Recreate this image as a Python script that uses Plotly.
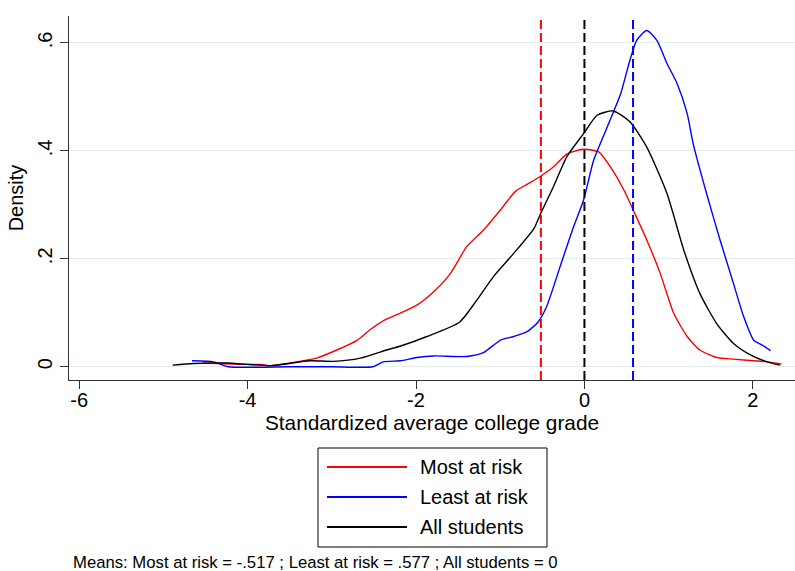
import plotly.graph_objects as go

# ---- data ----
most_x = [-4.53, -4.17, -3.85, -3.73, -3.46, -3.18, -2.94, -2.70, -2.55, -2.38, -2.19,
          -1.99, -1.79, -1.59, -1.40, -1.20, -1.00, -0.82, -0.68, -0.53, -0.37, -0.21,
          -0.01, 0.17, 0.31, 0.47, 0.58, 0.74, 0.90, 1.06, 1.22, 1.37, 1.57, 1.77, 2.01, 2.17, 2.34]
most_y = [0.007, 0.005, 0.004, 0.002, 0.008, 0.016, 0.031, 0.049, 0.068, 0.086, 0.099,
          0.114, 0.139, 0.173, 0.222, 0.253, 0.290, 0.325, 0.338, 0.352, 0.370, 0.394,
          0.403, 0.398, 0.370, 0.327, 0.290, 0.235, 0.173, 0.099, 0.056, 0.031, 0.017, 0.014, 0.011, 0.009, 0.005]

least_x = [-4.66, -4.40, -4.23, -3.50, -3.00, -2.51, -2.39, -2.19, -1.99, -1.79, -1.40,
           -1.20, -1.00, -0.84, -0.68, -0.55, -0.45, -0.29, -0.13, -0.01, 0.11, 0.27,
           0.43, 0.54, 0.62, 0.74, 0.86, 0.98, 1.10, 1.22, 1.29, 1.45, 1.61, 1.77, 1.89,
           2.01, 2.11, 2.21]
least_y = [0.011, 0.009, 0.000, 0.000, 0.000, 0.000, 0.009, 0.011, 0.017, 0.020, 0.019,
           0.026, 0.049, 0.056, 0.065, 0.083, 0.111, 0.185, 0.259, 0.309, 0.383, 0.444,
           0.506, 0.568, 0.605, 0.623, 0.605, 0.562, 0.525, 0.469, 0.414, 0.321, 0.235,
           0.154, 0.093, 0.049, 0.040, 0.030]

all_x = [-4.89, -4.64, -4.25, -3.73, -3.26, -2.98, -2.66, -2.35, -2.19, -1.87, -1.48,
         -1.28, -1.08, -0.84, -0.60, -0.52, -0.37, -0.21, -0.01, 0.15, 0.34, 0.54,
         0.74, 0.98, 1.18, 1.37, 1.57, 1.77, 1.97, 2.17, 2.32]
all_y = [0.003, 0.006, 0.007, 0.002, 0.011, 0.010, 0.016, 0.031, 0.038, 0.056, 0.083,
         0.123, 0.167, 0.210, 0.256, 0.284, 0.333, 0.389, 0.432, 0.466, 0.474, 0.454,
         0.407, 0.321, 0.216, 0.136, 0.080, 0.043, 0.022, 0.009, 0.003]

series_names = ["Most at risk", "Least at risk", "All students"]
series_colors = ["#ff0000", "#0000ff", "#000000"]
means = [-0.517, 0.577, 0.0]

x_tickvals = [-6, -4, -2, 0, 2]
x_ticktext = ["-6", "-4", "-2", "0", "2"]
y_tickvals = [0, 0.2, 0.4, 0.6]
y_ticktext = ["0", ".2", ".4", ".6"]

FONT = "Liberation Sans, Arial, sans-serif"

fig = go.Figure()
for xs, ys, name, col in zip([most_x, least_x, all_x], [most_y, least_y, all_y],
                             series_names, series_colors):
    fig.add_trace(go.Scatter(x=xs, y=ys, mode="lines", name=name,
                             line=dict(color=col, width=1.4, shape="spline", smoothing=0.6),
                             showlegend=False, hoverinfo="skip"))

# vertical mean lines
for m, col in zip(means, series_colors):
    fig.add_shape(type="line", xref="x", yref="paper", x0=m, x1=m, y0=0, y1=1,
                  line=dict(color=col, width=2, dash="9px,4px"))

# ---- layout geometry ----
W, H = 795, 571
L, R, T, B = 69, 0, 16, 191
pw, ph = W - L - R, H - T - B

def px(X):
    return (X - L) / pw

def py(Y):
    return (H - B - Y) / ph

# manual legend box
fig.add_shape(type="rect", xref="paper", yref="paper",
              x0=px(318), x1=px(547), y0=py(448), y1=py(547),
              line=dict(color="#000000", width=1), fillcolor="white")
row_y = [467, 497, 527]
for name, col, ry in zip(series_names, series_colors, row_y):
    fig.add_shape(type="line", xref="paper", yref="paper",
                  x0=px(327), x1=px(407), y0=py(ry), y1=py(ry),
                  line=dict(color=col, width=2))
    fig.add_annotation(xref="paper", yref="paper", x=px(418), y=py(ry),
                       text=name, showarrow=False, xanchor="left", yanchor="middle",
                       font=dict(family=FONT, size=20, color="black"))

fig.add_annotation(xref="paper", yref="paper", x=px(71), y=py(562),
                   text="Means: Most at risk = -.517 ; Least at risk = .577 ; All students = 0",
                   showarrow=False, xanchor="left", yanchor="middle",
                   font=dict(family=FONT, size=16.7, color="black"))

fig.update_layout(
    width=W, height=H,
    margin=dict(l=L, r=R, t=T, b=B),
    paper_bgcolor="white", plot_bgcolor="white",
    font=dict(family=FONT, size=19, color="black"),
    showlegend=False,
)
fig.update_xaxes(range=[-6.12, 2.50], tickvals=x_tickvals, ticktext=x_ticktext,
                 showgrid=False, zeroline=False, showline=True, linecolor="#333333",
                 linewidth=1.3, ticks="outside", ticklen=8, tickcolor="#333333",
                 tickfont=dict(size=20), ticklabelstandoff=-6,
                 title=dict(text="Standardized average college grade", font=dict(size=20.8), standoff=2))
fig.update_yaxes(range=[-0.0246, 0.65], tickvals=y_tickvals, ticktext=y_ticktext,
                 showgrid=True, gridcolor="#e3eeee", gridwidth=1.3, zeroline=False,
                 showline=True, linecolor="#333333", linewidth=1.3,
                 ticks="outside", ticklen=8, tickcolor="#333333", tickangle=-90,
                 tickfont=dict(size=20),
                 title=dict(text="Density", font=dict(size=20), standoff=4))

fig.write_html("out.html", config={"displayModeBar": False},
               post_script="document.body.style.margin='0';")
